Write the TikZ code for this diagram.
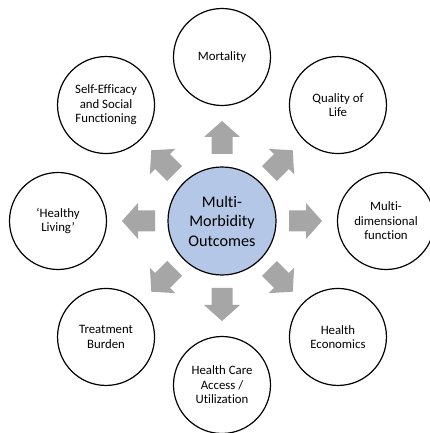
\documentclass[tikz,border=0pt]{standalone}
\usepackage{fontspec}
\setmainfont{Carlito}[Ligatures=NoCommon]
\definecolor{centerblue}{HTML}{B4C7E7}
\definecolor{arrowgray}{HTML}{A6A6A6}
\tikzset{
  outer/.style={circle, draw=black, line width=1.2pt, fill=white, minimum size=97pt, inner sep=0pt, align=center, font=\fontsize{12.8}{14.5}\selectfont},
  hub/.style={circle, draw=black, line width=1.2pt, fill=centerblue, minimum size=108pt, inner sep=0pt, align=center, font=\fontsize{16.2}{19.5}\selectfont},
  blockarrow/.style={fill=arrowgray, draw=none}
}
\begin{document}
\begin{tikzpicture}[x=1pt,y=1pt]
\useasboundingbox (0,0) rectangle (430,433);
\clip (0,0) rectangle (430,433);
\foreach \a in {0,45,...,315} {
  \fill[blockarrow, shift={(222,212)}, rotate=\a]
    (67,-10.5) -- (84,-10.5) -- (84,-18) -- (100,0) -- (84,18) -- (84,10.5) -- (67,10.5) -- cycle;
}
\node[hub] (c) at (222,212) {Multi-\\Morbidity\\Outcomes};
\node[outer] (mort) at ([shift={(90:164)}]c.center) {Mortality};
\node[outer] (qol) at ([shift={(45:164)}]c.center) {Quality of\\Life};
\node[outer] (mdf) at ([shift={(0:164)}]c.center) {Multi-\\dimensional\\function};
\node[outer] (hec) at ([shift={(-45:164)}]c.center) {Health\\Economics};
\node[outer] (hca) at ([shift={(-90:164)}]c.center) {Health Care\\Access /\\Utilization};
\node[outer] (tb) at ([shift={(-135:164)}]c.center) {Treatment\\Burden};
\node[outer] (hl) at ([shift={(180:164)}]c.center) {‘Healthy\\Living’};
\node[outer] (se) at ([shift={(135:164)}]c.center) {Self-Efficacy\\and Social\\Functioning};
\end{tikzpicture}
\end{document}
